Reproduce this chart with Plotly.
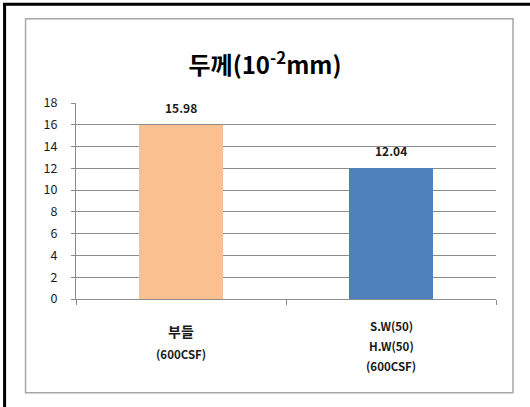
import plotly.graph_objects as go

categories = ["부들", "S.W(50)"]
category_lines = [["부들", "(600CSF)"], ["S.W(50)", "H.W(50)", "(600CSF)"]]
values = [15.98, 12.04]
value_labels = ["15.98", "12.04"]
bar_colors = ["#FAC090", "#4F81BD"]
y_ticks = list(range(0, 19, 2))

W, H = 530, 407
L, R, T, B = 76, 496.5, 103, 299.5
FONT = "Noto Sans CJK KR"


def px(x):
    return (x - L) / (R - L)


def py(y):
    return (B - y) / (B - T)


fig = go.Figure()
fig.add_trace(go.Bar(
    x=categories, y=values, marker=dict(color=bar_colors, line=dict(width=0)),
    width=0.4, hoverinfo="skip",
))

shapes = [
    dict(type="line", xref="paper", yref="paper", x0=px(3), x1=px(531), y0=py(4), y1=py(4),
         line=dict(color="#000000", width=3)),
    dict(type="line", xref="paper", yref="paper", x0=px(4.5), x1=px(4.5), y0=py(3), y1=py(410),
         line=dict(color="#000000", width=3)),
    dict(type="rect", xref="paper", yref="paper", x0=px(25.5), x1=px(513.5), y0=py(393.5), y1=py(18.5),
         line=dict(color="#A6A6A6", width=1.5), fillcolor="rgba(0,0,0,0)", layer="below"),
]

annotations = []
# value labels
for cat, val, lab in zip(categories, values, value_labels):
    annotations.append(dict(
        x=cat, xref="x", y=val, yref="y", text="<b>" + lab + "</b>", showarrow=False,
        yanchor="bottom", yshift=7, font=dict(family=FONT, size=12, color="#1a1a1a"),
    ))
# category labels, one annotation per line (20px line pitch)
line_y = [[332, 355], [327, 347, 367]]
line_size = [[14, 11.5], [11.5, 11.5, 11.5]]
for cat, lines, ys, sizes in zip(categories, category_lines, line_y, line_size):
    for t, yy, sz in zip(lines, ys, sizes):
        annotations.append(dict(
            x=cat, xref="x", y=py(yy), yref="paper", text="<b>" + t + "</b>",
            showarrow=False, yanchor="middle", xanchor="center",
            font=dict(family=FONT, size=sz, color="#1a1a1a"),
        ))

fig.update_layout(
    width=W, height=H, margin=dict(l=L, r=W - R, t=T, b=H - B),
    paper_bgcolor="white", plot_bgcolor="white",
    title=dict(text="<b>두께(10<sup>-2</sup>mm)</b>", x=265 / W, xanchor="center",
               y=1 - 66 / H, yanchor="middle", yref="container",
               font=dict(family=FONT, size=24, color="#000000")),
    showlegend=False,
    shapes=shapes, annotations=annotations,
    font=dict(family=FONT),
)
fig.update_yaxes(
    range=[0, 18], tickvals=y_ticks, showgrid=True, gridcolor="#8C8C8C", gridwidth=1,
    showline=True, linecolor="#8C8C8C", linewidth=1, ticks="outside", ticklen=4,
    tickcolor="#8C8C8C", tickfont=dict(family=FONT, size=12.5, color="#1a1a1a"),
    zeroline=False, ticklabelstandoff=11,
)
fig.update_xaxes(
    showticklabels=False, showline=True, linecolor="#8C8C8C", linewidth=1,
    ticks="outside", ticklen=5, tickcolor="#8C8C8C", tickson="boundaries",
    showgrid=False,
)

fig.write_html("out.html")
